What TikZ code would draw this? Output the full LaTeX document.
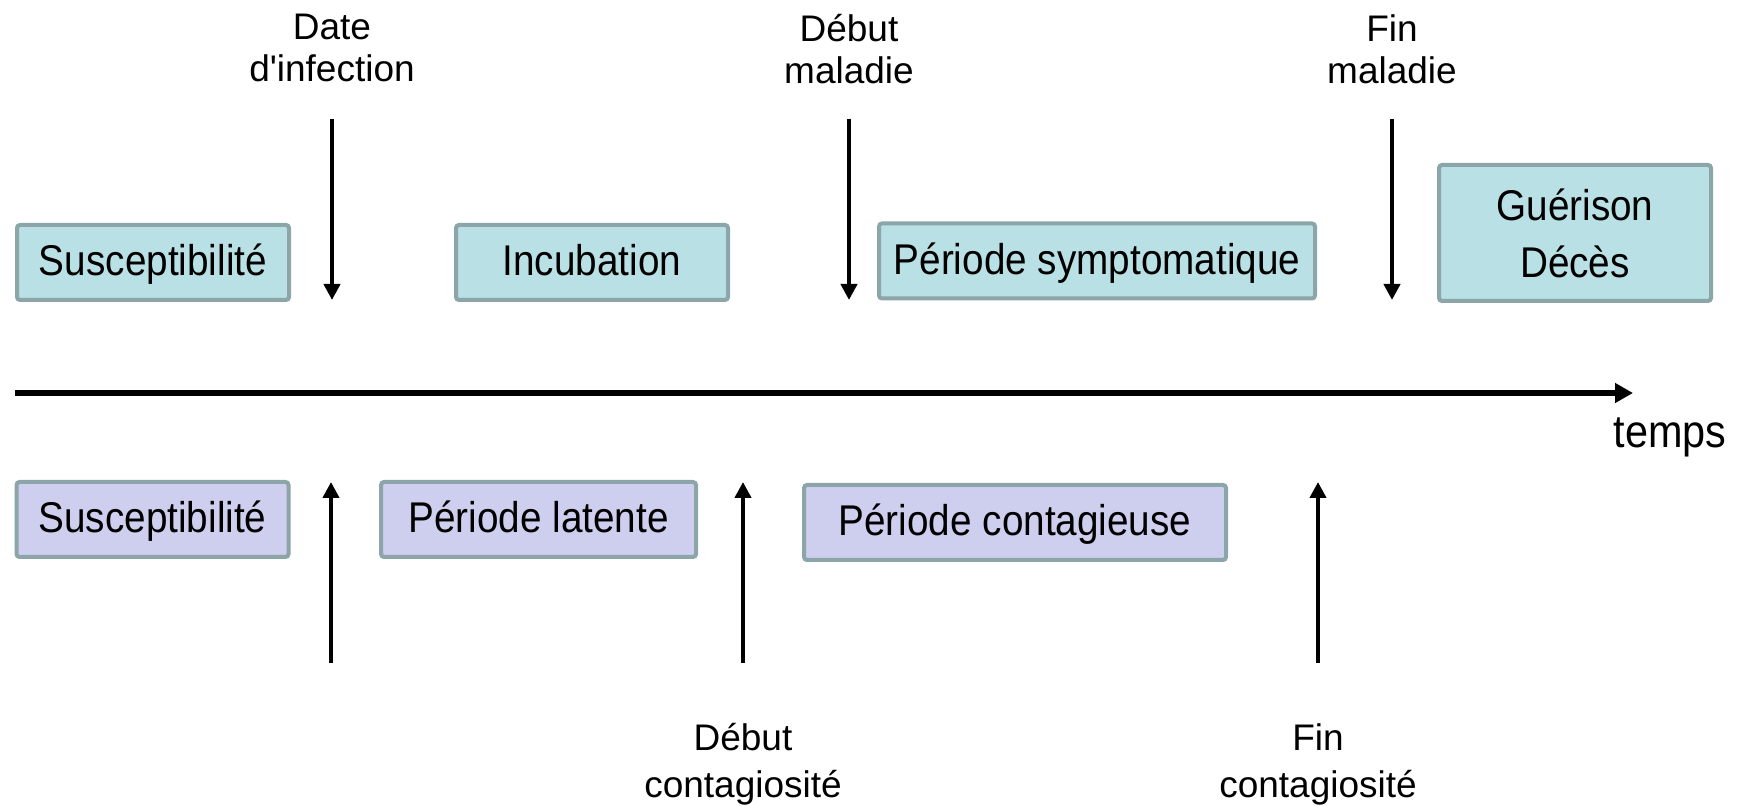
\documentclass[tikz,border=0pt]{standalone}
\usepackage{fontspec}
\setmainfont{Liberation Sans}
\newfontfamily\narrowfont{Liberation Sans}[FakeStretch=0.9]
\usepackage{xcolor}
\usetikzlibrary{arrows.meta, positioning}
\definecolor{colorA}{HTML}{B9E0E4}
\definecolor{colorB}{HTML}{CECEEE}
\definecolor{edgegray}{HTML}{8BA5A8}

\begin{document}
\begin{tikzpicture}[
  x=0.5pt, y=-0.5pt,
  every node/.style={inner sep=0pt},
  phasebox/.style={draw=edgegray, line width=2pt, rounded corners=1.5pt,
                   align=center, minimum width=136pt, minimum height=37.5pt,
                   font=\narrowfont\fontsize{21.5}{28.5}\selectfont},
  topbox/.style={phasebox, fill=colorA, text height=17pt, text depth=3.5pt},
  botbox/.style={phasebox, fill=colorB, text height=17pt, text depth=3.5pt},
  evtlabel/.style={align=center, font=\fontsize{18.5}{21}\selectfont},
  arr/.style={-{Triangle[length=8pt,width=8pt]}, line width=2.2pt},
  axisarr/.style={-{Triangle[length=9pt,width=9.5pt]}, line width=3.4pt}
]
\useasboundingbox (0,0) rectangle (1742,806);

% phases (clinical)
\node[topbox] (susc1) at (153,262.5)  {Susceptibilit\'e};
\node[topbox] (incub) at (592,262.5)  {Incubation};
\node[topbox, minimum width=218pt] (sympt) at (1097,261) {P\'eriode symptomatique};
\node[phasebox, fill=colorA, minimum height=68pt] (issue) at (1575,233) {Gu\'erison\\D\'ec\`es};

% phases (contagion)
\node[botbox] (susc2) at (152.5,519.5) {Susceptibilit\'e};
\node[botbox, minimum width=157.5pt] (latent) at (538.5,519.5) {P\'eriode latente};
\node[botbox, minimum width=211pt] (contag) at (1015,522.5) {P\'eriode contagieuse};

% time axis
\coordinate (t0) at (15,393);
\coordinate (t1) at (1633,393);
\draw[axisarr] (t0) -- (t1);
\node[anchor=base, font=\narrowfont\fontsize{23}{28}\selectfont] (temps) at (1670,448) {temps};

% events above the axis
\coordinate (infA) at (332,119);  \coordinate (infB) at (332,300);
\coordinate (malA) at (849,119);  \coordinate (malB) at (849,300);
\coordinate (finA) at (1392,119); \coordinate (finB) at (1392,300);
\draw[arr] (infA) -- (infB);
\draw[arr] (malA) -- (malB);
\draw[arr] (finA) -- (finB);
\node[evtlabel, above=18.5pt of infA] (infl) {Date\\d\textquotesingle infection};
\node[evtlabel, above=17.5pt of malA] (mall) {D\'ebut\\maladie};
\node[evtlabel, above=17.5pt of finA] (finl) {Fin\\maladie};

% events below the axis
\coordinate (expA) at (331,663);  \coordinate (expB) at (331,482);
\coordinate (conA) at (743,663);  \coordinate (conB) at (743,482);
\coordinate (endA) at (1318,663); \coordinate (endB) at (1318,482);
\draw[arr] (expA) -- (expB);
\draw[arr] (conA) -- (conB);
\draw[arr] (endA) -- (endB);
\node[evtlabel, below=30pt of conA, font=\fontsize{18.5}{23.5}\selectfont] (conl) {D\'ebut\\contagiosit\'e};
\node[evtlabel, below=30pt of endA, font=\fontsize{18.5}{23.5}\selectfont] (endl) {Fin\\contagiosit\'e};

\end{tikzpicture}
\end{document}
